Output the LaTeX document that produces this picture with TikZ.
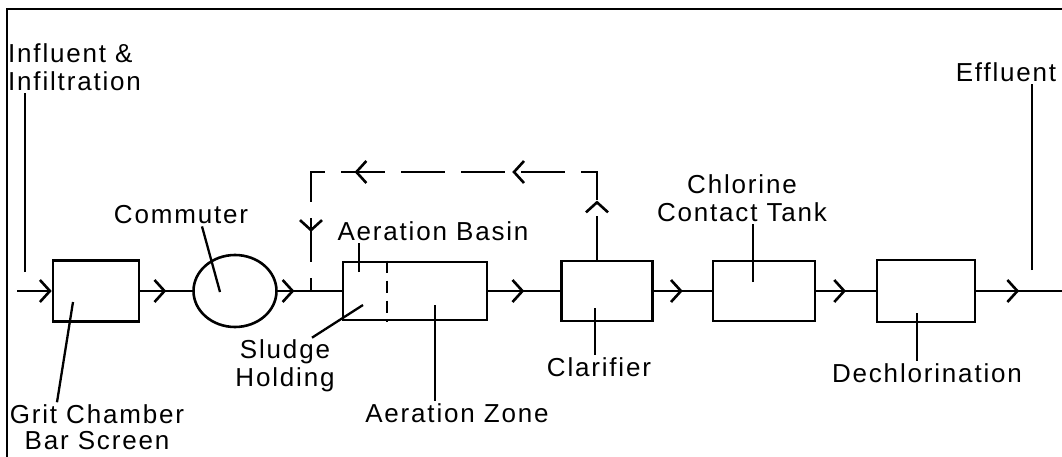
\documentclass[tikz,border=0pt]{standalone}
\usepackage{fontspec}
\setmainfont[LetterSpace=7]{Liberation Sans}
\usetikzlibrary{arrows.meta,shapes.geometric,decorations.markings}
\tikzset{
  barb/.tip={Straight Barb[length=10pt,width=22pt]},
  unit/.style={draw, line width=2.6pt, rectangle, inner sep=0pt},
  pipe/.style={line width=2.6pt},
  lead/.style={line width=2.3pt},
  txt/.style={font=\fontsize{26}{28}\selectfont, inner sep=2pt, align=center},
  mid/.style={postaction={decorate}, decoration={markings, mark=at position #1 with {\arrow{barb}}}},
  mid/.default=0.5,
  divider/.style={line width=2.6pt, dash pattern=on 12pt off 8pt},
  recycle/.style={dash pattern=on 44pt off 16pt, postaction={decorate},
    decoration={markings,
      mark=at position 0.12 with {\arrow{barb}},
      mark=at position 0.35 with {\arrow{barb}},
      mark=at position 0.67 with {\arrow{barb}},
      mark=at position 0.88 with {\arrow{barb}}}},
}
\begin{document}
\begin{tikzpicture}[x=1pt,y=-1pt]
\useasboundingbox (0,0) rectangle (1062,457);
\draw[line width=2pt] (7,457) -- (7,9) -- (1062,9);
\node[unit, minimum width=86pt, minimum height=61pt] (grit) at (96,291) {};
\node[unit, ellipse, minimum width=83pt, minimum height=72pt] (comm) at (235,291) {};
\node[unit, minimum width=144pt, minimum height=58pt] (basin) at (415,291) {};
\node[unit, minimum width=91pt, minimum height=60pt] (clar) at (607,291) {};
\node[unit, minimum width=102pt, minimum height=60pt] (chl) at (764,291) {};
\node[unit, minimum width=98pt, minimum height=62pt] (dech) at (926,291) {};
\coordinate (in) at (17,291);
\coordinate (jn) at (311,291);
\coordinate (out) at (1062,291);
\coordinate (rr) at (597,172);
\coordinate (rl) at (311,172);
\draw[pipe,-barb] (in) -- (grit);
\draw[pipe,mid] (grit) -- (comm);
\draw[pipe,mid] (comm) -- (jn);
\draw[pipe] (jn) -- (basin);
\draw[pipe,mid] (basin) -- (clar);
\draw[pipe,mid] (clar) -- (chl);
\draw[pipe,mid] (chl) -- (dech);
\draw[pipe,mid] (dech) -- (out);
\draw[divider] ([xshift=-28pt]basin.north) -- ([xshift=-28pt]basin.south);
\draw[pipe,recycle] (rr |- clar.north) -- (rr) -- (rl) -- (jn);
\node[txt, align=left, anchor=west] (inftxt) at (6,67) {Influent \&\\Infiltration};
\node[txt] (comtxt) at (181,215) {Commuter};
\node[txt, font=\fontsize{26}{26}\selectfont] (grittxt) at (97,427) {Grit Chamber\\Bar Screen};
\node[txt] (sludtxt) at (285,366) {Sludge\\Holding};
\node[txt] (basintxt) at (433,231) {Aeration Basin};
\node[txt] (zonetxt) at (457,413) {Aeration Zone};
\node[txt] (clartxt) at (599,367) {Clarifier};
\node[txt] (chltxt) at (742,198) {Chlorine\\Contact Tank};
\node[txt] (dechtxt) at (927,373) {Dechlorination};
\node[txt] (efftxt) at (1006,72) {Effluent};
\coordinate (infpt) at (25,272);
\coordinate (effpt) at (1032,270);
\coordinate (gritpt) at (73,302);
\coordinate (compt) at (220,292);
\coordinate (sludpt) at (363,305);
\coordinate (basinpt) at (359,272);
\coordinate (zonept) at (435,305);
\coordinate (clarpt) at (595,308);
\coordinate (chlpt) at (753,282);
\coordinate (dechpt) at (917,313);
\draw[lead] (infpt) -- (infpt |- inftxt.south);
\draw[lead] (effpt) -- (effpt |- efftxt.south);
\draw[lead] (gritpt) -- ([xshift=-40pt]grittxt.north);
\draw[lead] (compt) -- ([xshift=21pt]comtxt.south);
\draw[lead] (sludpt) -- ([xshift=27pt]sludtxt.north);
\draw[lead] (basinpt) -- (basinpt |- basintxt.south);
\draw[lead] (zonept) -- (zonept |- zonetxt.north);
\draw[lead] (clarpt) -- (clarpt |- clartxt.north);
\draw[lead] (chlpt) -- (chlpt |- chltxt.south);
\draw[lead] (dechpt) -- (dechpt |- dechtxt.north);
\end{tikzpicture}
\end{document}
